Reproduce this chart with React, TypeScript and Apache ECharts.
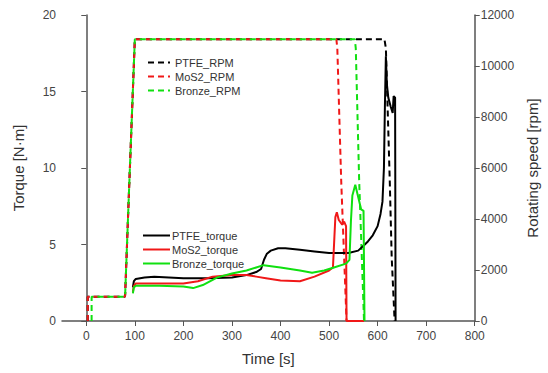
import React, { useEffect, useRef } from "react";
import * as echarts from "echarts";

const xTicks = [0, 100, 200, 300, 400, 500, 600, 700, 800];

const ptfeRpm: [number, number][] = [
  [3, 0], [3, 950], [79, 950], [80, 1000], [88, 5100], [100, 11050],
  [614, 11050], [617, 10700], [625, 5500], [629, 2500], [635, 0],
];
const mos2Rpm: [number, number][] = [
  [3, 0], [3, 950], [79, 950], [80, 1000], [88, 5100], [100, 11050],
  [515, 11050], [517, 10700], [525, 5500], [536, 0],
];
const bronzeRpm: [number, number][] = [
  [11, 0], [11, 950], [79, 950], [80, 1000], [88, 5100], [100, 11050],
  [553, 11050], [555, 10700], [562, 5500], [572, 0],
];

const ptfeTorque: [number, number][] = [
  [96, 2.2], [98, 2.6], [102, 2.75], [120, 2.85], [140, 2.9], [170, 2.85],
  [200, 2.8], [250, 2.8], [300, 2.85], [330, 3.0], [350, 3.2], [360, 3.4],
  [366, 4.0], [372, 4.4], [380, 4.6], [395, 4.75], [410, 4.75], [440, 4.65],
  [470, 4.55], [500, 4.45], [540, 4.45], [560, 4.6], [572, 4.95], [580, 5.2],
  [590, 5.6], [600, 6.2], [606, 7.0], [610, 7.8], [613, 10], [615, 14],
  [617, 17.3], [619, 15.5], [622, 14.6], [627, 14.0], [631, 13.6], [633, 14.7],
  [636, 14.6], [637, 0],
];
const mos2Torque: [number, number][] = [
  [96, 1.9], [98, 2.3], [102, 2.45], [150, 2.45], [200, 2.45], [230, 2.6],
  [260, 2.9], [300, 3.0], [330, 3.0], [350, 2.9], [370, 2.8], [400, 2.65],
  [440, 2.6], [470, 2.9], [500, 3.3], [508, 3.5], [511, 5.5], [513, 6.8],
  [516, 7.1], [520, 6.6], [527, 6.3], [531, 6.5], [535, 6.2], [536, 0], [572, 0],
];
const bronzeTorque: [number, number][] = [
  [96, 1.8], [98, 2.2], [102, 2.3], [150, 2.3], [200, 2.25], [220, 2.15],
  [240, 2.35], [270, 2.85], [300, 3.1], [330, 3.3], [350, 3.5], [365, 3.65],
  [400, 3.5], [440, 3.3], [465, 3.15], [490, 3.3], [510, 3.5], [535, 3.75],
  [542, 4.0], [545, 6.5], [548, 8.2], [554, 8.9], [560, 8.1], [566, 7.3],
  [571, 7.2], [573, 0],
];

const BLACK = "#000000";
const RED = "#f01818";
const GREEN = "#10e010";
const FONT = "Liberation Sans";

export default function App() {
  const ref = useRef<HTMLDivElement>(null);
  useEffect(() => {
    if (!ref.current) return;
    const chart = echarts.init(ref.current, undefined, { renderer: "svg" });
    const axisColor = "#555";
    const labelStyle = { color: "#444", fontFamily: FONT, fontSize: 12 };
    const nameStyle = { color: "#333", fontFamily: FONT, fontSize: 15 };
    const hiddenSymbol = { color: "rgba(0,0,0,0)", borderColor: "rgba(0,0,0,0)", borderWidth: 0 };
    const dashed = (name: string, color: string, data: [number, number][]) => ({
      name,
      type: "line",
      yAxisIndex: 1,
      data,
      showSymbol: false,
      symbol: "none",
      lineStyle: { color, width: 2, type: [6, 4] },
      itemStyle: { color },
      z: 2,
    });
    const solid = (name: string, color: string, data: [number, number][]) => ({
      name,
      type: "line",
      yAxisIndex: 0,
      data,
      showSymbol: false,
      symbol: "none",
      lineStyle: { color, width: 2 },
      itemStyle: { color },
      z: 3,
    });
    chart.setOption({
      animation: false,
      backgroundColor: "#fff",
      textStyle: { fontFamily: FONT },
      grid: { left: 62, right: 69, top: 15, bottom: 52 },
      legend: [
        {
          data: ["PTFE_RPM", "MoS2_RPM", "Bronze_RPM"],
          orient: "vertical",
          left: 142,
          top: 52,
          itemWidth: 22,
          itemHeight: 10,
          itemGap: 3,
          itemStyle: hiddenSymbol,
          textStyle: { color: "#333", fontFamily: FONT, fontSize: 11 },
        },
        {
          data: ["PTFE_torque", "MoS2_torque", "Bronze_torque"],
          orient: "vertical",
          left: 137,
          top: 225,
          itemWidth: 27,
          itemHeight: 10,
          itemGap: 3,
          itemStyle: hiddenSymbol,
          textStyle: { color: "#333", fontFamily: FONT, fontSize: 11, padding: [0, 0, 0, -3] },
        },
      ],
      xAxis: {
        type: "value",
        min: -50,
        max: 800,
        name: "Time [s]",
        nameLocation: "middle",
        nameGap: 30,
        nameTextStyle: nameStyle,
        splitLine: { show: false },
        axisLine: { show: true, onZero: false, lineStyle: { color: axisColor, width: 1.5 } },
        axisTick: { show: true, inside: false, length: 5, customValues: xTicks, lineStyle: { color: axisColor } },
        axisLabel: { ...labelStyle, margin: 9, customValues: xTicks },
      },
      yAxis: [
        {
          type: "value",
          min: 0,
          max: 20,
          interval: 5,
          position: "left",
          name: "Torque [N·m]",
          nameLocation: "middle",
          nameGap: 36,
          nameTextStyle: nameStyle,
          splitLine: { show: false },
          axisLine: { show: true, lineStyle: { color: axisColor, width: 1.5 } },
          axisTick: { show: true, length: 5, lineStyle: { color: axisColor } },
          axisLabel: { ...labelStyle, margin: 6 },
        },
        {
          type: "value",
          min: 0,
          max: 12000,
          interval: 2000,
          position: "right",
          name: "Rotating speed [rpm]",
          nameLocation: "middle",
          nameGap: 50,
          nameRotate: 90,
          nameTextStyle: nameStyle,
          splitLine: { show: false },
          axisLine: { show: true, lineStyle: { color: axisColor, width: 1.5 } },
          axisTick: { show: true, length: 5, lineStyle: { color: axisColor } },
          axisLabel: { ...labelStyle, margin: 6, formatter: (v: number) => String(v) },
        },
      ],
      series: [
        dashed("PTFE_RPM", BLACK, ptfeRpm),
        dashed("MoS2_RPM", RED, mos2Rpm),
        dashed("Bronze_RPM", GREEN, bronzeRpm),
        solid("PTFE_torque", BLACK, ptfeTorque),
        solid("MoS2_torque", RED, mos2Torque),
        solid("Bronze_torque", GREEN, bronzeTorque),
      ],
    });
    return () => chart.dispose();
  }, []);
  return (
    <div
      ref={ref}
      style={{ position: "fixed", left: 0, top: 0, width: 548, height: 373 }}
    />
  );
}
